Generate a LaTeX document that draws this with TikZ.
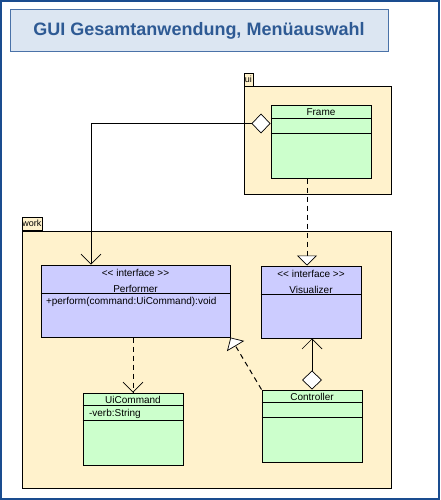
\documentclass[tikz,border=0pt]{standalone}
\usepackage{fontspec}
\setmainfont{Liberation Sans}
\usetikzlibrary{arrows.meta}
\definecolor{pkgfill}{HTML}{FFF2CC}
\definecolor{clsgreen}{HTML}{CCFFCC}
\definecolor{clsblue}{HTML}{CCCCFF}
\definecolor{titlefill}{HTML}{DCE6F2}
\definecolor{titleline}{HTML}{4A72A8}
\definecolor{titletext}{HTML}{2E5A94}
\definecolor{frameblue}{HTML}{1A4C8F}
\begin{document}
\begin{tikzpicture}[x=1pt, y={(0pt,-1pt)},
        every node/.style={font=\fontsize{10}{12}\selectfont},
        pkg/.style={draw, fill=pkgfill, line width=1pt, inner sep=0pt},
        pkgtab/.style={draw, fill=pkgfill, line width=0.8pt, inner sep=0pt, anchor=south west,
            minimum height=13pt, font=\fontsize{9}{9}\selectfont},
        cls/.style={draw, fill=clsgreen, line width=1pt, inner sep=0pt, minimum width=100pt, minimum height=72pt},
        iface/.style={cls, fill=clsblue},
        compline/.style={line width=1pt},
        link/.style={line width=1pt},
        dep/.style={line width=1pt, dash pattern=on 5pt off 4pt}]
    \useasboundingbox (0,0) rectangle (440,500);
    \draw[frameblue, line width=2pt] (1,1) rectangle (439,499);
    \node[draw=titleline, fill=titlefill, line width=1pt, minimum width=378pt, minimum height=42pt,
        text=titletext, font=\fontsize{18}{20}\selectfont\bfseries] (title) at (199,31)
        {GUI Gesamtanwendung, Menüauswahl\hspace{6pt}};
    % packages
    \node[pkg, minimum width=147pt, minimum height=107pt] (ui) at (317.5,140.5) {};
    \node[pkgtab, minimum width=9pt] (uitab) at (ui.north west) {ui};
    \node[pkg, minimum width=369pt, minimum height=257pt] (work) at (206.5,359.5) {};
    \node[pkgtab, minimum width=20pt] (worktab) at (work.north west) {work};
    % classes
    \node[cls] (frame) at (321,142) {};
    \node[iface, minimum width=189pt] (performer) at (135.5,301) {};
    \node[iface] (visualizer) at (311,302) {};
    \node[cls] (uicmd) at (133,429) {};
    \node[cls] (ctrl) at (312,426) {};
    \foreach \c/\a/\b in {frame/13/28, uicmd/13/28, ctrl/13/28}
        {%
        \draw[compline] ([yshift=-\a pt]\c.north west) -- ([yshift=-\a pt]\c.north east);
        \draw[compline] ([yshift=-\b pt]\c.north west) -- ([yshift=-\b pt]\c.north east);
        }
    \foreach \c in {performer, visualizer}
        \draw[compline] ([yshift=-29pt]\c.north west) -- ([yshift=-29pt]\c.north east);
    \node (frame-name) at ([yshift=-7pt]frame.north) {Frame};
    \node (uicmd-name) at ([yshift=-7pt]uicmd.north) {UiCommand};
    \node (ctrl-name) at ([yshift=-7pt]ctrl.north) {Controller};
    \node (uicmd-attr) [anchor=west] at ([xshift=3pt, yshift=-21pt]uicmd.north west) {-verb:String};
    \foreach \c/\n in {performer/Performer, visualizer/Visualizer}
        {%
        \node (\c-stereo) at ([yshift=-8pt]\c.north) {{<}{<} interface {>}{>}};
        \node (\c-name) at ([yshift=-24pt]\c.north) {\n};
        }
    \node (performer-op) [anchor=west] at ([xshift=2pt, yshift=-37pt]performer.north west)
        {+perform(command:UiCommand):void};
    % connectors
    \draw[link, {Diamond[fill=white, length=19pt, width=20pt, line width=0.7pt]}-{Straight Barb[length=10pt, width=20pt, line width=0.7pt]}]
        ([yshift=-18pt]frame.north west) -| ([xshift=-44.5pt]performer.north);
    \draw[dep, -{Triangle[fill=white, length=10pt, width=20pt, line width=0.7pt]}]
        ([xshift=-14pt]frame.south) -- ([xshift=-4pt]visualizer.north);
    \draw[dep, -{Straight Barb[length=10pt, width=20pt, line width=0.7pt]}]
        (performer.south -| uicmd.north) -- (uicmd.north);
    \draw[dep, -{Triangle[fill=white, length=10pt, width=20pt, line width=0.7pt]}]
        (ctrl.north west) -- (performer.south east);
    \draw[link, {Diamond[fill=white, length=19pt, width=20pt, line width=0.7pt]}-{Straight Barb[length=10pt, width=20pt, line width=0.7pt]}]
        (ctrl.north) -- (ctrl.north |- visualizer.south);
\end{tikzpicture}
\end{document}
